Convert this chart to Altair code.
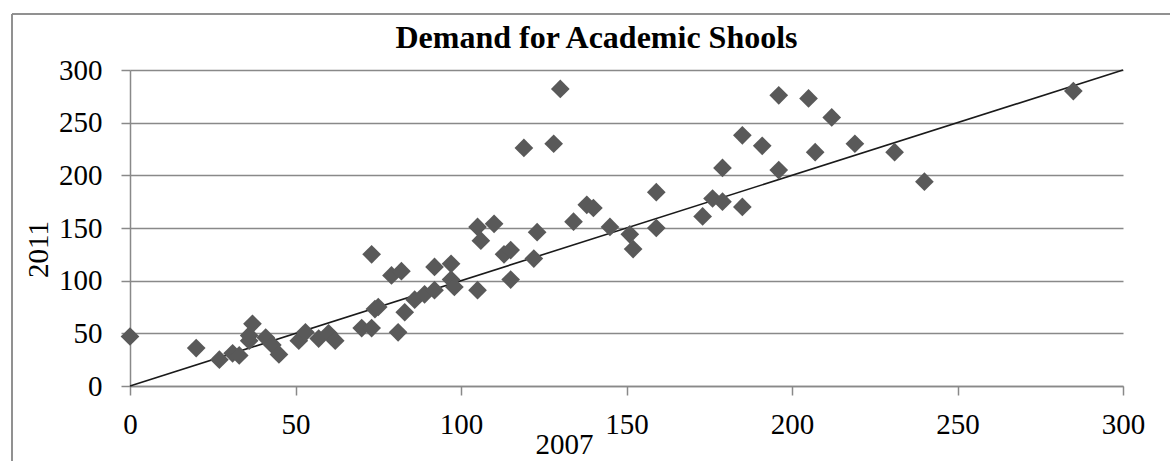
import altair as alt
import pandas as pd

# Enrolment demand per school: 2007 (x) against 2011 (y)
x_2007 = [0, 20, 27, 31, 33, 36, 36, 37, 41, 43, 45, 51, 53, 57, 60, 62, 70, 73, 73, 74,
          75, 79, 81, 82, 83, 86, 89, 92, 92, 97, 97, 98, 105, 105, 106, 110, 113, 115, 115, 119,
          122, 123, 128, 130, 134, 138, 140, 145, 151, 152, 159, 159, 173, 176, 179, 179, 185, 185, 191, 196,
          196, 205, 207, 212, 219, 231, 240, 285]
y_2011 = [47, 36, 25, 31, 29, 43, 48, 59, 46, 39, 30, 43, 51, 45, 50, 43, 55, 55, 125, 73,
          75, 105, 51, 109, 70, 82, 87, 91, 113, 116, 101, 94, 91, 151, 138, 154, 125, 129, 101, 226,
          121, 146, 230, 282, 156, 172, 169, 151, 144, 130, 184, 150, 161, 178, 175, 207, 170, 238, 228, 276,
          205, 273, 222, 255, 230, 222, 194, 280]

# Reference line where 2011 equals 2007
line_x = [0, 300]
line_y = [0, 300]

tick_values = [0, 50, 100, 150, 200, 250, 300]

points = pd.DataFrame({"x": x_2007, "y": y_2011})
ref = pd.DataFrame({"x": line_x, "y": line_y})

FONT = "Liberation Serif"
GRID = "#898989"

x_scale = alt.Scale(domain=[0, 300], nice=False, zero=False)
y_scale = alt.Scale(domain=[0, 300], nice=False, zero=False)

x_axis = alt.Axis(
    title="2007", values=tick_values, grid=False, tickSize=9, labelPadding=15,
    labelFlush=False,
    titleX=434, titleY=67, titleAlign="center", titleBaseline="alphabetic",
    titlePadding=0,
)
y_axis = alt.Axis(
    title="2011", values=tick_values, grid=True, tickSize=9, labelPadding=19,
    labelFlush=False,
    titleX=-83, titleY=179, titleAlign="center", titleBaseline="alphabetic",
    titleAngle=270,
)

scatter = alt.Chart(points).mark_point(
    shape="diamond", filled=True, size=350, color="#595959", opacity=1
).encode(
    x=alt.X("x:Q", scale=x_scale, axis=x_axis),
    y=alt.Y("y:Q", scale=y_scale, axis=y_axis),
)

trend = alt.Chart(ref).mark_line(color="#1a1a1a", strokeWidth=1.6).encode(
    x=alt.X("x:Q", scale=x_scale),
    y=alt.Y("y:Q", scale=y_scale),
)

# Outer frame of the chart area (top and left edges)
frame_top = alt.Chart(ref).mark_rule(color="#8a8a8a", strokeWidth=1.5).encode(
    x=alt.value(-118), x2=alt.value(1100), y=alt.value(-56)
)
frame_left = alt.Chart(ref).mark_rule(color="#8a8a8a", strokeWidth=1.5).encode(
    x=alt.value(-118), y=alt.value(-56), y2=alt.value(400)
)

chart = alt.layer(trend, scatter, frame_top, frame_left).properties(
    width=993,
    height=316,
    background="white",
    title=alt.TitleParams(
        "Demand for Academic Shools", font=FONT, fontSize=32, fontWeight="bold",
        color="black", anchor="middle", dx=-30, dy=87, offset=20, baseline="alphabetic",
    ),
    autosize=alt.AutoSizeParams(type="none"),
    padding={"left": 130, "top": 70, "right": 47, "bottom": 75},
).configure_view(
    stroke=None
).configure_axis(
    labelFont=FONT, titleFont=FONT, labelFontSize=29, titleFontSize=29,
    labelColor="black", titleColor="black", titleFontWeight="normal",
    domainColor=GRID, tickColor=GRID, gridColor=GRID, gridOpacity=1,
    domainWidth=1.5, tickWidth=1.5, gridWidth=1.5,
)

chart.save("out.html", embed_options={"renderer": "svg", "actions": False})
